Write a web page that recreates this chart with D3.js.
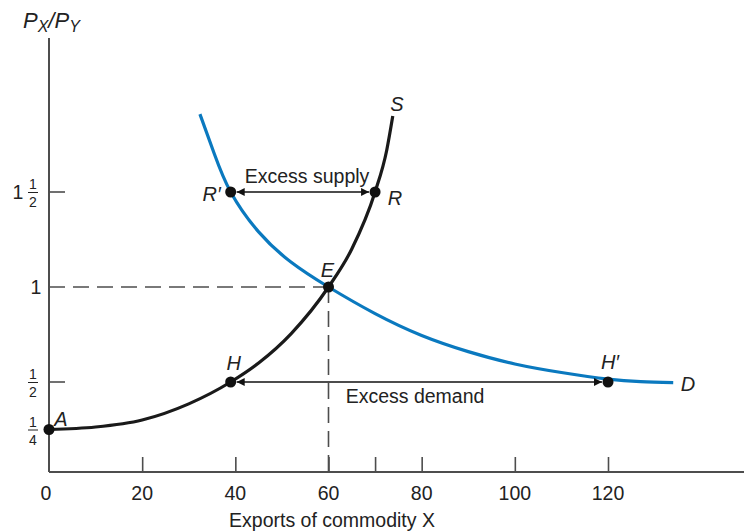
<!DOCTYPE html>
<html><head><meta charset="utf-8">
<script src="https://cdn.jsdelivr.net/npm/d3@7"></script>
<style>
html,body{margin:0;padding:0;background:#fff;}
svg text{font-family:"Liberation Sans",Arial,Helvetica,sans-serif;}
</style></head>
<body><svg id="c" width="744" height="531"></svg>
<script>
// ---- data ----
const supplyX = [0, 10, 20, 30, 39, 45, 52, 60, 65, 70, 72.5, 73.8];
const supplyY = [0.25, 0.263, 0.30, 0.385, 0.5, 0.60, 0.755, 1, 1.2, 1.5, 1.72, 1.9];
const demandX = [32.4, 35.5, 39, 45, 52, 60, 70, 80, 90, 100, 110, 120, 127, 134];
const demandY = [1.91, 1.70, 1.5, 1.29, 1.13, 1, 0.86, 0.745, 0.66, 0.595, 0.55, 0.515, 0.502, 0.497];
const pointNames = ["A", "H", "E", "R\u2032", "R", "H\u2032"];
const pointX = [0, 39, 60, 39, 70, 120];
const pointY = [0.25, 0.5, 1, 1.5, 1.5, 0.5];
const xTickValues = [0, 20, 40, 60, 70, 80, 100, 120];
const xTickLabels = ["0", "20", "40", "60", "", "80", "100", "120"];
const yTickValues = [0.25, 0.5, 1, 1.5];
const yTickWhole = ["", "", "1", "1"];
const yTickNum = ["1", "1", "", "1"];
const yTickDen = ["4", "2", "", "2"];
const arrowLabels = ["Excess supply", "Excess demand"];
const arrowFrom = [[39, 1.5], [39, 0.5]];
const arrowTo = [[70, 1.5], [120, 0.5]];

// ---- scales ----
const x = d3.scaleLinear().domain([0, 120]).range([49, 608]);
const y = d3.scaleLinear().domain([0, 2]).range([477, 97]);
const x0 = x(0), yAxisPix = 472;
const FS = 19.5;

const svg = d3.select("#c");
const defs = svg.append("defs");
defs.append("marker").attr("id","ah").attr("viewBox","0 0 10 10")
  .attr("refX",10).attr("refY",5).attr("markerWidth",12).attr("markerHeight",8)
  .attr("markerUnits","userSpaceOnUse").attr("orient","auto-start-reverse")
  .append("path").attr("d","M0,0 L10,5 L0,10 Z").attr("fill","#111");

const axisColor = "#4d4d4d";
// axes
svg.append("line").attr("x1",x0).attr("x2",744).attr("y1",yAxisPix).attr("y2",yAxisPix)
  .attr("stroke",axisColor).attr("stroke-width",2);
svg.append("line").attr("x1",x0).attr("x2",x0).attr("y1",38).attr("y2",yAxisPix)
  .attr("stroke",axisColor).attr("stroke-width",2);

// x ticks (inside)
const xAxis = d3.axisTop(x).tickValues(xTickValues).tickSize(15).tickFormat("");
const gx = svg.append("g").attr("transform",`translate(0,${yAxisPix})`).call(xAxis);
gx.select(".domain").remove();
gx.selectAll(".tick line").attr("stroke",axisColor).attr("stroke-width",1.6)
  .filter(d=>d===0).remove();
xTickValues.forEach((v,i)=>{
  svg.append("text").attr("x",x(v)+(v===0?-3:0)).attr("y",500).attr("text-anchor","middle")
    .attr("font-size",FS).attr("fill","#222").text(xTickLabels[i]);
});
svg.append("text").attr("x",332).attr("y",527).attr("text-anchor","middle")
  .attr("font-size",FS).attr("fill","#222").text("Exports of commodity X");

// y ticks
yTickValues.forEach((v,i)=>{
  const py = y(v);
  if (v !== 0.25 && v !== 1) {
    svg.append("line").attr("x1",x0).attr("x2",x0+16).attr("y1",py).attr("y2",py)
      .attr("stroke",axisColor).attr("stroke-width",1.6);
  }
  if (yTickWhole[i]) {
    svg.append("text").attr("x", yTickNum[i] ? 18 : 36).attr("y",py+7).attr("text-anchor","middle")
      .attr("font-size",FS).attr("fill","#222").text(yTickWhole[i]);
  }
  if (yTickNum[i]) {
    const fx = 33;
    svg.append("text").attr("x",fx).attr("y",py-3).attr("text-anchor","middle")
      .attr("font-size",14).attr("fill","#222").text(yTickNum[i]);
    svg.append("line").attr("x1",fx-5).attr("x2",fx+5).attr("y1",py+0.5).attr("y2",py+0.5)
      .attr("stroke","#222").attr("stroke-width",1);
    svg.append("text").attr("x",fx).attr("y",py+15).attr("text-anchor","middle")
      .attr("font-size",14).attr("fill","#222").text(yTickDen[i]);
  }
});

// y title
const t = svg.append("text").attr("x",23).attr("y",28).attr("font-size",22)
  .attr("font-style","italic").attr("fill","#222");
t.append("tspan").text("P");
t.append("tspan").attr("font-size",16).attr("dy",4).text("X");
t.append("tspan").attr("dy",-4).text("/P");
t.append("tspan").attr("font-size",16).attr("dy",4).text("Y");

// dashed reference lines at E
const ex = x(pointX[2]), ey = y(pointY[2]);
svg.append("line").attr("x1",x0).attr("x2",ex).attr("y1",ey).attr("y2",ey)
  .attr("stroke",axisColor).attr("stroke-width",1.6).attr("stroke-dasharray","16,8");
svg.append("line").attr("x1",ex).attr("x2",ex).attr("y1",ey).attr("y2",yAxisPix)
  .attr("stroke",axisColor).attr("stroke-width",1.6).attr("stroke-dasharray","16,8");

// curves
const lineD = d3.line().x(d=>x(d[0])).y(d=>y(d[1])).curve(d3.curveNatural);
const lineS = d3.line().x(d=>x(d[0])).y(d=>y(d[1])).curve(d3.curveMonotoneX);
svg.append("path").attr("d", lineD(demandX.map((v,i)=>[v,demandY[i]])))
  .attr("fill","none").attr("stroke","#0a79bf").attr("stroke-width",3.2);
svg.append("path").attr("d", lineS(supplyX.map((v,i)=>[v,supplyY[i]])))
  .attr("fill","none").attr("stroke","#1a1a1a").attr("stroke-width",3.2);

// arrows
arrowFrom.forEach((f,i)=>{
  const to = arrowTo[i];
  svg.append("line").attr("x1",x(f[0])+6).attr("x2",x(to[0])-6)
    .attr("y1",y(f[1])).attr("y2",y(to[1]))
    .attr("stroke","#111").attr("stroke-width",1.3)
    .attr("marker-start","url(#ah)").attr("marker-end","url(#ah)");
});
svg.append("text").attr("x",307).attr("y",183).attr("text-anchor","middle")
  .attr("font-size",FS).attr("fill","#222").text(arrowLabels[0]);
svg.append("text").attr("x",415).attr("y",403).attr("text-anchor","middle")
  .attr("font-size",FS).attr("fill","#222").text(arrowLabels[1]);

// points
pointX.forEach((v,i)=>{
  svg.append("circle").attr("cx",x(v)).attr("cy",y(pointY[i])).attr("r",5.5).attr("fill","#111");
});
// point labels
const lblOff = [[12,-4],[3,-12],[-1,-10],[-19,9],[20,13],[2,-13]];
pointNames.forEach((n,i)=>{
  svg.append("text").attr("x",x(pointX[i])+lblOff[i][0]).attr("y",y(pointY[i])+lblOff[i][1])
    .attr("text-anchor","middle").attr("font-size",FS+0.5).attr("font-style","italic")
    .attr("fill","#222").text(n);
});
// curve labels
svg.append("text").attr("x",397).attr("y",111).attr("text-anchor","middle").attr("font-size",FS+0.5)
  .attr("font-style","italic").attr("fill","#222").text("S");
svg.append("text").attr("x",688).attr("y",391).attr("text-anchor","middle").attr("font-size",FS+0.5)
  .attr("font-style","italic").attr("fill","#222").text("D");
</script></body></html>
